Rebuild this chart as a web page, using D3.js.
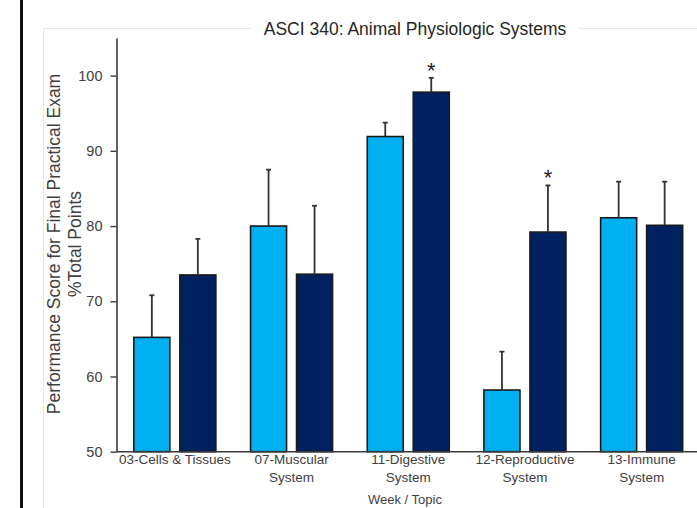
<!DOCTYPE html>
<html>
<head>
<meta charset="utf-8">
<script src="https://cdn.jsdelivr.net/npm/d3@7"></script>
<style>
  body { margin: 0; background: #fff; }
  svg { display: block; font-family: "Liberation Sans", Arial, sans-serif; }
</style>
</head>
<body>
<div id="vis_result"></div>
<script>
// values
var categories = ['03-Cells & Tissues', '07-Muscular System', '11-Digestive System', '12-Reproductive System', '13-Immune System'];
var categoryLines = [['03-Cells & Tissues'], ['07-Muscular', 'System'], ['11-Digestive', 'System'], ['12-Reproductive', 'System'], ['13-Immune', 'System']];
var seriesNames = ['before', 'after'];
var lightValues = [65.2, 80.0, 91.9, 58.2, 81.1];
var lightErrors = [5.6, 7.5, 1.85, 5.1, 4.8];
var darkValues = [73.5, 73.6, 97.8, 79.2, 80.1];
var darkErrors = [4.8, 9.1, 1.9, 6.2, 5.8];
var significant = [false, false, true, true, false];
var yTicks = [50, 60, 70, 80, 90, 100];
var colors = ['#00B0F0', '#002060'];

var width = 697, height = 508;

var svg = d3.select('#vis_result')
    .append('svg')
    .attr('width', width)
    .attr('height', height);

// black edge on the left of the screenshot
svg.append('rect')
    .attr('x', 20).attr('y', 0)
    .attr('width', 3).attr('height', height)
    .attr('fill', '#111');

// faint chart area border
svg.append('path')
    .attr('d', 'M43.5,' + height + 'V28.5H' + width)
    .attr('fill', 'none')
    .attr('stroke', '#e6e6e6')
    .attr('stroke-width', 1);

var y = d3.scaleLinear().domain([50, 105]).range([451.7, 38]);
var x0 = d3.scaleBand().domain(categories).range([116.5, 700]);
var x1 = d3.scaleBand().domain(seriesNames).range([0, x0.bandwidth()])
    .paddingInner(0.217).paddingOuter(0.377);

// build a row per bar
var rows = [];
categories.forEach(function (c, i) {
    rows.push({ cat: c, s: 'before', v: lightValues[i], e: lightErrors[i], star: false });
    rows.push({ cat: c, s: 'after', v: darkValues[i], e: darkErrors[i], star: significant[i] });
});

var g = svg.append('g');

g.selectAll('rect.bar')
    .data(rows)
    .enter()
    .append('rect')
    .attr('class', 'bar')
    .attr('x', function (d) { return x0(d.cat) + x1(d.s); })
    .attr('y', function (d) { return y(d.v); })
    .attr('width', x1.bandwidth())
    .attr('height', function (d) { return y(50) - y(d.v); })
    .attr('fill', function (d) { return d.s === 'before' ? colors[0] : colors[1]; })
    .attr('stroke', '#1a1a1a')
    .attr('stroke-width', 1.6);

// error bars (upper only)
var err = g.selectAll('g.err')
    .data(rows)
    .enter()
    .append('g')
    .attr('class', 'err')
    .attr('transform', function (d) { return 'translate(' + (x0(d.cat) + x1(d.s) + x1.bandwidth() / 2) + ',0)'; });

err.append('line')
    .attr('x1', 0).attr('x2', 0)
    .attr('y1', function (d) { return y(d.v); })
    .attr('y2', function (d) { return y(d.v + d.e); })
    .attr('stroke', '#333')
    .attr('stroke-width', 1.8);

err.append('line')
    .attr('x1', -2.5).attr('x2', 2.5)
    .attr('y1', function (d) { return y(d.v + d.e); })
    .attr('y2', function (d) { return y(d.v + d.e); })
    .attr('stroke', '#333')
    .attr('stroke-width', 1.8);

// significance stars
g.selectAll('text.star')
    .data(rows.filter(function (d) { return d.star; }))
    .enter()
    .append('text')
    .attr('class', 'star')
    .attr('x', function (d) { return x0(d.cat) + x1(d.s) + x1.bandwidth() / 2; })
    .attr('y', function (d) { return y(d.v + d.e); })
    .attr('text-anchor', 'middle')
    .attr('font-size', 22)
    .attr('fill', '#222')
    .text('*');

// y axis
var yAxis = svg.append('g')
    .attr('transform', 'translate(116.5,0)')
    .call(d3.axisLeft(y).tickValues(yTicks).tickSize(6).tickSizeOuter(0).tickPadding(8));
yAxis.select('.domain').attr('stroke', '#3a3a3a').attr('stroke-width', 1.6);
yAxis.selectAll('.tick line').attr('stroke', '#3a3a3a').attr('stroke-width', 1.4);
yAxis.selectAll('.tick text')
    .attr('font-size', 14.5)
    .attr('font-family', '"Liberation Sans", Arial, sans-serif')
    .attr('fill', '#404040');

// x axis line
svg.append('line')
    .attr('x1', x0.range()[0]).attr('x2', x0.range()[1])
    .attr('y1', y(50)).attr('y2', y(50))
    .attr('stroke', '#3a3a3a')
    .attr('stroke-width', 1.6);

// category labels
var labels = svg.selectAll('text.cat')
    .data(categories)
    .enter()
    .append('text')
    .attr('class', 'cat')
    .attr('text-anchor', 'middle')
    .attr('font-size', 13.5)
    .attr('fill', '#404040');

labels.each(function (c, i) {
    var t = d3.select(this);
    categoryLines[i].forEach(function (line, k) {
        t.append('tspan')
            .attr('x', x0(c) + x0.bandwidth() / 2)
            .attr('y', 464 + k * 18)
            .text(line);
    });
});

// x axis title
svg.append('text')
    .attr('x', 405)
    .attr('y', 504)
    .attr('text-anchor', 'middle')
    .attr('font-size', 13)
    .attr('fill', '#404040')
    .text('Week / Topic');

// y axis title
var yt = svg.append('text')
    .attr('transform', 'translate(0,244) rotate(-90)')
    .attr('text-anchor', 'middle')
    .attr('font-size', 17.5)
    .attr('fill', '#404040');
yt.append('tspan').attr('x', 0).attr('y', 60).text('Performance Score for Final Practical Exam');
yt.append('tspan').attr('x', 0).attr('y', 80.5).text('%Total Points');

// chart title with a white backing so the frame line stops at it
var title = svg.append('text')
    .attr('x', 415)
    .attr('y', 35)
    .attr('text-anchor', 'middle')
    .attr('font-size', 17.5)
    .attr('fill', '#262626')
    .text('ASCI 340: Animal Physiologic Systems');
var bb = title.node().getBBox();
svg.insert('rect', function () { return title.node(); })
    .attr('x', bb.x - 12).attr('y', bb.y)
    .attr('width', bb.width + 24).attr('height', bb.height)
    .attr('fill', '#fff');
</script>
</body>
</html>
